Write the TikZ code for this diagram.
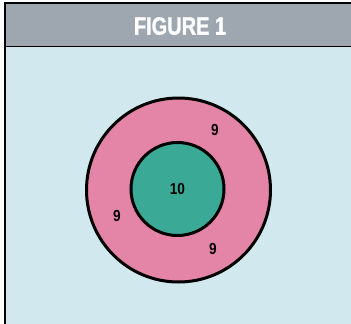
\documentclass[tikz,border=0pt]{standalone}
\usepackage{fontspec}
\usepackage{tikz}
\usetikzlibrary{positioning}
\newfontfamily\headfont[FakeStretch=0.8, BoldFont={* Bold}, FakeBold=1.2]{Liberation Sans}
\newfontfamily\numfont[FakeStretch=0.85, BoldFont={* Bold}]{Liberation Sans}
\definecolor{cBand}{RGB}{158,166,176}
\definecolor{cSky}{RGB}{208,232,238}
\definecolor{cRing}{RGB}{228,132,166}
\definecolor{cBull}{RGB}{58,170,150}
\tikzset{
	ring/.style  ={circle, draw=black, line width=3pt, inner sep=0pt},
	score/.style ={font=\numfont\bfseries\fontsize{16}{16}\selectfont, text=black, inner sep=0pt},
	frameline/.style={draw=black, line width=1.8pt},
}
\begin{document}
\begin{tikzpicture}[x=1pt, y=-1pt]
	\useasboundingbox (0,0) rectangle (351,324);
	\fill[white] (0,0) rectangle (351,324);
	% panel and title band
	\fill[cSky] (5,46) rectangle (351,324);
	\fill[cBand] (5,3) rectangle (351,46);
	\draw[frameline] (351,3) -- (5,3) -- (5,324);
	\draw[frameline] (5,46.5) -- (351,46.5);
	\node[font=\headfont\bfseries\fontsize{25}{25}\selectfont, text=white] (title) at (180,26) {FIGURE 1};
	% target
	\node[ring, fill=cRing, minimum size=184pt] (outer) at (178.5,190) {};
	\node[ring, fill=cBull, minimum size=93pt, score] (bull) at (177.5,189) {10};
	\node[score] (nineA) at (215,130) {9};
	\node[score] (nineB) at (117,216) {9};
	\node[score] (nineC) at (213,249) {9};
\end{tikzpicture}
\end{document}
